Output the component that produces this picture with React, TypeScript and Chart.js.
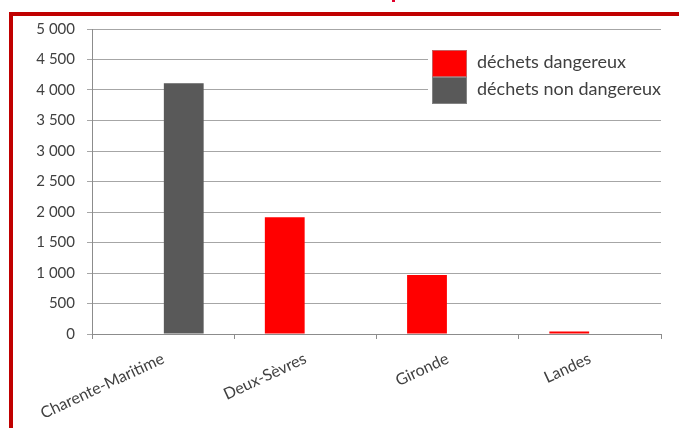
import React, { useEffect, useRef } from "react";
import { Chart, registerables } from "chart.js";

Chart.register(...registerables);

const categories = ["Charente-Maritime", "Deux-Sèvres", "Gironde", "Landes"];
const dangerous = [null, 1913, 967, 40];
const nonDangerous = [4110, null, null, null];
const seriesNames = ["déchets dangereux", "déchets non dangereux"];
const seriesColors = ["#ff0000", "#595959"];
const yTicks = [0, 500, 1000, 1500, 2000, 2500, 3000, 3500, 4000, 4500, 5000];

const FONT = "Lato, 'Open Sans', sans-serif";

function fmt(n: number): string {
  if (n >= 1000) {
    const th = Math.floor(n / 1000);
    const rest = String(n % 1000).padStart(3, "0");
    return th + " " + rest;
  }
  return String(n);
}

const legendPlugin = {
  id: "insideLegend",
  afterDraw(chart: any) {
    const ctx = chart.ctx;
    ctx.save();
    ctx.fillStyle = "#ffffff";
    ctx.fillRect(428, 42, 238, 68);
    const boxX = 432;
    const boxW = 35;
    const boxH = 27;
    let y = 50;
    chart.data.datasets.forEach((ds: any, i: number) => {
      ctx.fillStyle = ds.backgroundColor;
      ctx.fillRect(boxX, y, boxW, boxH);
      ctx.strokeStyle = "rgba(160,160,160,0.6)";
      ctx.lineWidth = 1;
      ctx.strokeRect(boxX + 0.5, y + 0.5, boxW - 1, boxH - 1);
      ctx.fillStyle = "#404040";
      ctx.font = "18px " + FONT;
      ctx.textBaseline = "middle";
      ctx.textAlign = "left";
      ctx.fillText(ds.label, 477, y + boxH / 2 - 1);
      y += boxH;
    });
    ctx.restore();
  },
};

export default function App() {
  const ref = useRef<HTMLCanvasElement | null>(null);

  useEffect(() => {
    if (!ref.current) return;
    const chart = new Chart(ref.current, {
      type: "bar",
      data: {
        labels: categories,
        datasets: [
          {
            label: seriesNames[0],
            data: dangerous,
            backgroundColor: seriesColors[0],
            categoryPercentage: 0.58,
            barPercentage: 0.965,
          },
          {
            label: seriesNames[1],
            data: nonDangerous,
            backgroundColor: seriesColors[1],
            categoryPercentage: 0.58,
            barPercentage: 0.965,
          },
        ],
      },
      options: {
        responsive: false,
        animation: false,
        layout: { padding: { left: 0, right: 18, top: 29, bottom: 0 } },
        plugins: {
          legend: { display: false },
          tooltip: { enabled: false },
          title: { display: false },
        },
        scales: {
          x: {
            grid: {
              offset: true,
              drawOnChartArea: false,
              drawTicks: true,
              tickLength: 5,
              color: "#8c8c8c",
            },
            border: { color: "#8c8c8c", width: 1 },
            ticks: {
              minRotation: 25,
              maxRotation: 25,
              padding: 10,
              color: "#404040",
              font: { family: FONT, size: 16 },
            },
            afterFit: (s: any) => {
              s.height = 428 - 334;
            },
          },
          y: {
            min: 0,
            max: 5000,
            afterBuildTicks: (s: any) => {
              s.ticks = yTicks.map((v) => ({ value: v }));
            },
            grid: {
              color: "#a6a6a6",
              tickLength: 5,
              drawTicks: true,
            },
            border: { color: "#8c8c8c", width: 1 },
            ticks: {
              padding: 12,
              color: "#404040",
              font: { family: FONT, size: 15 },
              callback: (v: any) => fmt(Number(v)),
            },
            afterFit: (s: any) => {
              s.width = 92;
            },
          },
        },
      },
      plugins: [legendPlugin],
    });
    return () => chart.destroy();
  }, []);

  return (
    <div
      style={{
        position: "fixed",
        left: 0,
        top: 0,
        width: 679,
        height: 428,
        background: "#ffffff",
        overflow: "hidden",
      }}
    >
      <div
        style={{
          position: "absolute",
          left: 9,
          top: 12,
          width: 700,
          height: 500,
          borderLeft: "4px solid #c00000",
          borderTop: "4px solid #c00000",
          boxSizing: "border-box",
        }}
      />
      <div
        style={{
          position: "absolute",
          left: 392,
          top: 0,
          width: 3,
          height: 2,
          background: "#e0002a",
        }}
      />
      <canvas
        ref={ref}
        width={679}
        height={428}
        style={{ position: "absolute", left: 0, top: 0, width: 679, height: 428 }}
      />
    </div>
  );
}
